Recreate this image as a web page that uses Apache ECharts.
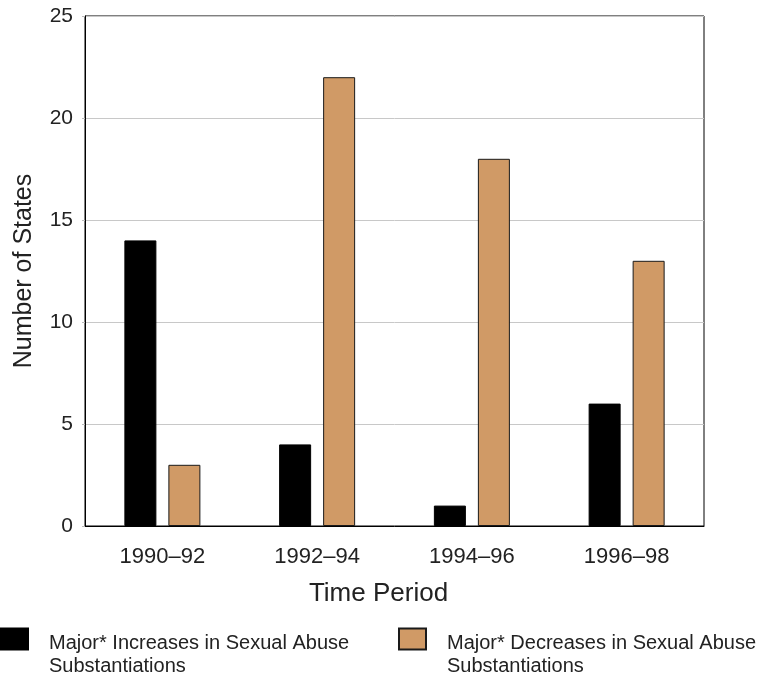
<!DOCTYPE html>
<html>
<head>
<meta charset="utf-8">
<script src="https://cdn.jsdelivr.net/npm/echarts@6/dist/echarts.min.js"></script>
<style>
	* { margin: 0; padding: 0; }
	#main { width: 768px; height: 678px; background: #fff; }
</style>
</head>
<body>
<div id="main"></div>
<script>
	var periods = ['1990\u201392', '1992\u201394', '1994\u201396', '1996\u201398'];
	var increases = [14, 4, 1, 6];
	var decreases = [3, 22, 18, 13];
	var nameInc = 'Major* Increases in Sexual Abuse\nSubstantiations';
	var nameDec = 'Major* Decreases in Sexual Abuse\nSubstantiations';

	var font = 'Liberation Sans, Arial, sans-serif';
	var chart = echarts.init(document.getElementById('main'));

	// blank top line pushes the two text lines down so the box sits by line 1
	function legendFmt(name) {
		var parts = name.split('\n');
		return '{s| }\n{t|' + parts[0] + '}\n{t|' + parts[1] + '}';
	}
	var legendText = {
		fontFamily: font,
		fontSize: 20,
		color: '#222',
		rich: {
			s: { fontSize: 10, lineHeight: 31 },
			t: { fontFamily: font, fontSize: 20, color: '#222', lineHeight: 23, padding: [0, 0, 0, 16] }
		}
	};

	chart.setOption({
		animation: false,
		grid: {
			left: 85,
			right: 64,
			top: 16,
			bottom: 152,
			show: true,
			borderColor: '#000',
			borderWidth: 1
		},
		legend: [{
			data: [nameInc],
			left: 0,
			top: 611,
			padding: 0,
			icon: 'rect',
			itemWidth: 27,
			itemHeight: 21,
			formatter: legendFmt,
			textStyle: legendText
		}, {
			data: [nameDec],
			left: 398,
			top: 611,
			padding: 0,
			icon: 'rect',
			itemWidth: 27,
			itemHeight: 21,
			formatter: legendFmt,
			textStyle: legendText
		}],
		xAxis: {
			type: 'category',
			data: periods,
			name: 'Time Period',
			nameLocation: 'middle',
			nameGap: 55,
			nameTextStyle: { fontFamily: font, fontSize: 26, color: '#222', padding: [0, 32, 0, 0] },
			axisLine: { lineStyle: { color: '#000' } },
			axisTick: { show: false },
			axisLabel: { fontFamily: font, fontSize: 22, color: '#222', margin: 20 }
		},
		yAxis: {
			type: 'value',
			min: 0,
			max: 25,
			interval: 5,
			name: 'Number of States',
			nameLocation: 'middle',
			nameGap: 48,
			nameTextStyle: { fontFamily: font, fontSize: 25, color: '#222' },
			axisLine: { show: true, lineStyle: { color: '#000' } },
			axisTick: { show: true, length: 3, lineStyle: { color: '#bbb' } },
			axisLabel: { fontFamily: font, fontSize: 21, color: '#222', margin: 12, padding: [5, 0, 0, 0] },
			splitLine: { lineStyle: { color: '#c8c8c8' } }
		},
		series: [{
			name: nameInc,
			type: 'bar',
			data: increases,
			barWidth: 32,
			barGap: '37.5%',
			itemStyle: { color: '#000', borderColor: '#000', borderWidth: 1 }
		}, {
			name: nameDec,
			type: 'bar',
			data: decreases,
			barWidth: 32,
			itemStyle: { color: '#D09A66', borderColor: '#1a1a1a', borderWidth: 1 }
		}]
	});
</script>
</body>
</html>
